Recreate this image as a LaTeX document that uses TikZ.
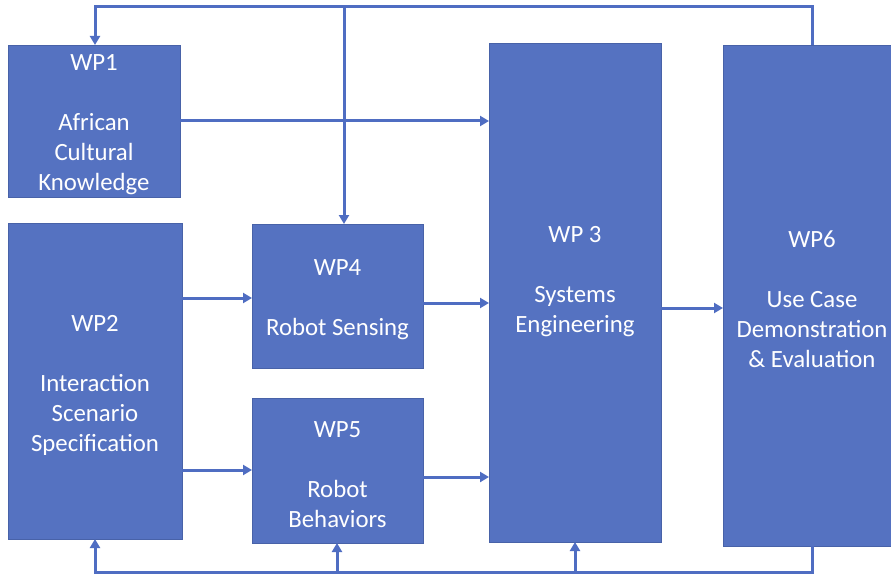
\documentclass[tikz,border=0pt]{standalone}
\usepackage{fontspec}
\setmainfont{Carlito}
\usetikzlibrary{arrows.meta,calc}
\definecolor{boxfill}{HTML}{5572C1}
\definecolor{boxline}{HTML}{4862A8}
\definecolor{linkcol}{HTML}{4F6DC2}
\tikzset{
  wpbox/.style={draw=boxline, line width=0.8pt, fill=boxfill, inner sep=0pt, outer sep=0pt},
  wptext/.style={text=white, align=center, font=\fontsize{24.8}{30}\selectfont},
  link/.style={draw=linkcol, line width=3pt},
  arr/.style={link, -{Triangle[length=9pt,width=10pt]}},
}
\begin{document}
\begin{tikzpicture}[x=1pt,y=-1pt]
\clip (0,0) rectangle (891,575);
\fill[white] (0,0) rectangle (891,575);
% boxes
\node[wpbox, minimum width=172pt, minimum height=152pt] (wp1) at (94,121) {};
\node[wpbox, minimum width=174pt, minimum height=316pt] (wp2) at (95,381) {};
\node[wpbox, minimum width=171pt, minimum height=144pt] (wp4) at (337.5,296) {};
\node[wpbox, minimum width=171pt, minimum height=145pt] (wp5) at (337.5,470.5) {};
\node[wpbox, minimum width=172pt, minimum height=499pt] (wp3) at (575,292.5) {};
\node[wpbox, minimum width=178pt, minimum height=501pt] (wp6) at (812,295.5) {};
% texts
\node[wptext] (t1) at (94,125) {WP1\\[30pt]African\\Cultural\\Knowledge};
\node[wptext] (t2) at (95,385) {WP2\\[30pt]Interaction\\Scenario\\Specification};
\node[wptext] (t4) at (337.5,300) {WP4\\[30pt]Robot Sensing};
\node[wptext] (t5) at (337.5,475) {WP5\\[30pt]Robot\\Behaviors};
\node[wptext] (t3) at (575,282) {WP 3\\[30pt]Systems\\Engineering};
\node[wptext] (t6) at (812,299) {WP6\\[30pt]Use Case\\Demonstration\\\& Evaluation};
% helper coordinates
\coordinate (tl) at (95,7);
\coordinate (tb) at (344,7);
\coordinate (bl) at (95,572);
\coordinate (b5) at (337,572);
\coordinate (b3) at (575,572);
\coordinate (r298) at (0,298);
\coordinate (r303) at (0,303);
\coordinate (r308) at (0,308);
\coordinate (r470) at (0,470);
\coordinate (r477) at (0,477);
% feedback loops
\draw[arr] (wp6.north) |- (tl) -- (tl |- wp1.north);
\draw[arr] (tb) -- (tb |- wp4.north);
\draw[arr] (wp6.south) |- (bl) -- (bl |- wp2.south);
\draw[arr] (b5) -- (b5 |- wp5.south);
\draw[arr] (b3) -- (b3 |- wp3.south);
% forward links
\draw[arr] (wp1.east) -- (wp1.east -| wp3.west);
\draw[arr] (wp2.east |- r298) -- (wp4.west |- r298);
\draw[arr] (wp2.east |- r470) -- (wp5.west |- r470);
\draw[arr] (wp4.east |- r303) -- (wp3.west |- r303);
\draw[arr] (wp5.east |- r477) -- (wp3.west |- r477);
\draw[arr] (wp3.east |- r308) -- (wp6.west |- r308);
\end{tikzpicture}
\end{document}
